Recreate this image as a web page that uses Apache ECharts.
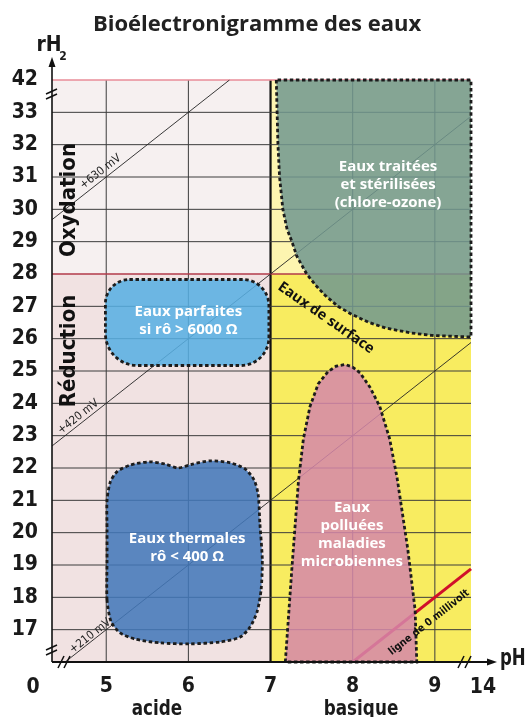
<!DOCTYPE html>
<html><head><meta charset="utf-8">
<script src="https://cdn.jsdelivr.net/npm/echarts@6/dist/echarts.min.js"></script>
<style>html,body{margin:0;padding:0;background:#fff}#c{width:526px;height:717px}</style>
</head><body><div id="c"></div>
<script>
// ---------- data ----------
const phExtent = [4.34, 9.44];
const rh2Extent = [16, 34];
const phTicks = [5, 6, 7, 8, 9];
const rh2Ticks = [17, 18, 19, 20, 21, 22, 23, 24, 25, 26, 27, 28, 29, 30, 31, 32, 33];
const rh2TopTick = [34, '42'];
const phEdgeLabels = ['0', '14'];
const phNeutral = 7;
const rh2Redox = 28;
// zones: [phFrom, phTo, rh2From, rh2To]
const zones = [
  [4.34, 7, 28, 34],
  [4.34, 7, 16, 28],
  [7, 9.44, 28, 34],
  [7, 9.44, 16, 28]
];
const iso630 = [[4.34, 29.68], [6.5, 34]];
const iso420 = [[4.34, 22.68], [9.44, 32.88]];
const iso210 = [[4.5, 16], [9.44, 25.88]];
const iso0 = [[8.0, 16], [9.44, 18.88]];
const treatedRegion = [[7.07,34],[7.08,33],[7.09,32],[7.11,31],[7.15,30],[7.2,29.4],[7.26,29],[7.32,28.55],[7.44,28],[7.55,27.65],[7.66,27.35],[7.82,27.0],[7.99,26.75],[8.2,26.5],[8.4,26.33],[8.7,26.18],[8.96,26.1],[9.44,26.05],[9.44,34]];
const pollutedRegion = [[7.18,16],[7.26,18.9],[7.34,21.6],[7.4,22.9],[7.48,23.9],[7.58,24.6],[7.7,24.98],[7.8,25.15],[7.91,25.2],[8.0,25.12],[8.09,24.94],[8.21,24.5],[8.33,23.9],[8.45,22.9],[8.54,21.7],[8.67,19.5],[8.76,17.6],[8.78,16]];
const thermalRegion = [[5.01,17.92],[5.01,19.15],[5.01,20.08],[5.01,21.01],[5.05,21.57],[5.13,21.88],[5.29,22.09],[5.53,22.19],[5.72,22.12],[5.875,22.0],[6.05,22.12],[6.26,22.22],[6.51,22.16],[6.69,21.97],[6.8,21.63],[6.85,21.17],[6.87,20.3],[6.9,19.15],[6.885,18.23],[6.836,17.55],[6.75,17.08],[6.63,16.77],[6.39,16.62],[6.02,16.56],[5.66,16.59],[5.35,16.71],[5.17,16.9],[5.06,17.24]];
const perfectRegion = [4.99, 6.98, 25.17, 27.83];
// labels: [pH, rH2, text]
const regionLabels = [
  [8.43, 30.75, 'Eaux traitées\net stérilisées\n(chlore-ozone)'],
  [6.0, 26.55, 'Eaux parfaites\nsi rô > 6000 Ω'],
  [5.985, 19.53, 'Eaux thermales\nrô < 400 Ω'],
  [7.99, 19.95, 'Eaux\npolluées\nmaladies\nmicrobiennes']
];
const zoneLabels = [
  [4.545, 30.29, 'Oxydation'],
  [4.545, 25.62, 'Réduction']
];
const surfaceLabel = [7.675, 26.64, 'Eaux de surface'];
const zeroLabel = [8.93, 17.22, 'ligne de 0 millivolt'];
const isoLabels = [
  [4.93, 31.16, '+630 mV'],
  [4.66, 23.58, '+420 mV'],
  [4.805, 16.8, '+210 mV']
];
const sideLabels = ['acide', 'basique'];

// ---------- styles ----------
const NARROW = "'Liberation Sans Narrow','DejaVu Sans Condensed',sans-serif";
const SANS = "'Open Sans','Noto Sans',sans-serif";
const zoneColors = ['#f6f0f0', '#f1e2e2', '#fdf5b0', '#f8ec60'];
const G = {left: 52, top: 80, right: 471, bottom: 662};
const dashStroke = {stroke: '#1c1c1c', lineWidth: 2.8, lineDash: [3.5, 2.6]};

function polySeries(points, fill, smooth) {
  return {
    type: 'custom', z: 5, data: points,
    renderItem: (p, api) => {
      if (p.dataIndex !== 0) return;
      return {type: 'polygon', shape: {points: points.map(pt => api.coord(pt)), smooth: smooth || 0},
        style: Object.assign({fill: fill}, dashStroke)};
    }
  };
}
function axisText(x, y, text, size, align, sx) {
  return {type: 'text', z: 52, x: x, y: y, scaleX: sx || 1,
    style: {text: text, fontFamily: NARROW, fontWeight: 'bold', fontSize: size, fill: '#1a1a1a',
      align: align || 'center', verticalAlign: 'middle'}};
}

const option = {
  animation: false,
  title: {text: 'Bioélectronigramme des eaux', left: 88, top: 9,
    textStyle: {fontFamily: SANS, fontSize: 22, fontWeight: 'bold', color: '#222'}},
  grid: {left: G.left, top: G.top, right: 526 - G.right, bottom: 717 - G.bottom},
  xAxis: {type: 'value', min: phExtent[0], max: phExtent[1],
    axisLine: {show: false}, axisTick: {show: false}, splitLine: {show: false},
    axisLabel: {customValues: phTicks, margin: 14, fontFamily: NARROW, fontWeight: 'bold', fontSize: 21, color: '#1a1a1a'}},
  yAxis: {type: 'value', min: rh2Extent[0], max: rh2Extent[1],
    axisLine: {show: false}, axisTick: {show: false}, splitLine: {show: false},
    axisLabel: {customValues: rh2Ticks.concat([rh2TopTick[0]]), margin: 14, padding: [0, 0, 18, 0],
      formatter: v => v === rh2TopTick[0] ? rh2TopTick[1] : String(v),
      fontFamily: NARROW, fontWeight: 'bold', fontSize: 21, color: '#1a1a1a'}},
  series: [
    { // background zones
      type: 'custom', z: 1, data: zones,
      renderItem: (p, api) => {
        const a = api.coord([api.value(0), api.value(3)]);
        const b = api.coord([api.value(1), api.value(2)]);
        return {type: 'rect', shape: {x: a[0], y: a[1], width: b[0] - a[0], height: b[1] - a[1]},
          style: {fill: zoneColors[p.dataIndex]}};
      }
    },
    { // vertical grid lines
      type: 'custom', z: 2, data: phTicks.map(v => [v, rh2Extent[0]]),
      renderItem: (p, api) => {
        const x = api.coord([api.value(0), rh2Extent[0]])[0];
        const y0 = api.coord([phExtent[0], rh2Extent[0]])[1];
        const y1 = api.coord([phExtent[0], rh2Extent[1]])[1];
        const neutral = api.value(0) === phNeutral;
        return {type: 'line', shape: {x1: x, y1: y0, x2: x, y2: y1},
          style: {stroke: neutral ? '#111' : '#3c3c3c', lineWidth: neutral ? 2.2 : 1}};
      }
    },
    { // horizontal grid lines
      type: 'custom', z: 2, data: rh2Ticks.concat([rh2Extent[1]]).map(v => [phExtent[0], v]),
      renderItem: (p, api) => {
        const v = api.value(1);
        const y = api.coord([phExtent[0], v])[1];
        const x0 = api.coord([phExtent[0], v])[0];
        const x1 = api.coord([phExtent[1], v])[0];
        let stroke = '#3c3c3c', w = 1;
        if (v === rh2Redox) { stroke = '#b23a4a'; w = 1.3; }
        if (v === rh2Extent[1]) { stroke = '#e98c98'; w = 1.6; }
        return {type: 'line', shape: {x1: x0, y1: y, x2: x1, y2: y}, style: {stroke: stroke, lineWidth: w}};
      }
    },
    {type: 'line', z: 3, data: iso630, showSymbol: false, silent: true, lineStyle: {color: '#222', width: 0.9}},
    {type: 'line', z: 3, data: iso420, showSymbol: false, silent: true, lineStyle: {color: '#222', width: 0.9}},
    {type: 'line', z: 3, data: iso210, showSymbol: false, silent: true, lineStyle: {color: '#222', width: 0.9}},
    {type: 'line', z: 3, data: iso0, showSymbol: false, silent: true, lineStyle: {color: '#d0102a', width: 3}},
    polySeries(treatedRegion, 'rgba(113,151,143,0.86)'),
    polySeries(pollutedRegion, 'rgba(213,135,170,0.86)'),
    polySeries(thermalRegion, 'rgba(67,119,185,0.87)', 0.25),
    { // perfect water rounded region
      type: 'custom', z: 5, data: [perfectRegion],
      renderItem: (p, api) => {
        const a = api.coord([api.value(0), api.value(3)]);
        const b = api.coord([api.value(1), api.value(2)]);
        return {type: 'rect', shape: {x: a[0], y: a[1], width: b[0] - a[0], height: b[1] - a[1], r: [24, 26, 28, 32]},
          style: Object.assign({fill: 'rgba(87,175,226,0.87)'}, dashStroke)};
      }
    },
    { // region labels
      type: 'custom', z: 8, data: regionLabels,
      renderItem: (p, api) => {
        const d = regionLabels[p.dataIndex];
        const c = api.coord([d[0], d[1]]);
        return {type: 'text', x: c[0], y: c[1],
          style: {text: d[2], fill: '#fff', fontFamily: SANS, fontWeight: 'bold', fontSize: 15, lineHeight: 18,
            align: 'center', verticalAlign: 'middle'}};
      }
    },
    { // Oxydation / Réduction
      type: 'custom', z: 8, data: zoneLabels,
      renderItem: (p, api) => {
        const d = zoneLabels[p.dataIndex];
        const c = api.coord([d[0], d[1]]);
        return {type: 'text', x: c[0], y: c[1], rotation: Math.PI / 2,
          style: {text: d[2], fill: '#111', fontFamily: NARROW, fontWeight: 'bold', fontSize: 22,
            align: 'center', verticalAlign: 'middle'}};
      }
    },
    { // iso labels
      type: 'custom', z: 8, data: isoLabels,
      renderItem: (p, api) => {
        const d = isoLabels[p.dataIndex];
        const c = api.coord([d[0], d[1]]);
        return {type: 'text', x: c[0], y: c[1], rotation: 0.667,
          style: {text: d[2], fill: '#222', fontFamily: NARROW, fontSize: 11.5,
            align: 'center', verticalAlign: 'middle'}};
      }
    },
    { // surface & zero labels
      type: 'custom', z: 8, data: [surfaceLabel, zeroLabel],
      renderItem: (p, api) => {
        const d = p.dataIndex === 0 ? surfaceLabel : zeroLabel;
        const c = api.coord([d[0], d[1]]);
        const surf = p.dataIndex === 0;
        return {type: 'text', x: c[0], y: c[1], rotation: surf ? -0.61 : 0.667,
          style: {text: d[2], fill: '#111', fontFamily: surf ? SANS : NARROW, fontWeight: 'bold',
            fontSize: surf ? 14.5 : 10.5, align: 'center', verticalAlign: 'middle'}};
      }
    }
  ],
  graphic: [
    // axes
    {type: 'line', z: 50, shape: {x1: G.left, y1: G.bottom, x2: G.left, y2: 64}, style: {stroke: '#111', lineWidth: 1.6}},
    {type: 'polygon', z: 50, shape: {points: [[G.left, 57], [G.left - 3.5, 67], [G.left + 3.5, 67]]}, style: {fill: '#111'}},
    {type: 'line', z: 50, shape: {x1: G.left, y1: G.bottom, x2: 490, y2: G.bottom}, style: {stroke: '#111', lineWidth: 2}},
    {type: 'polygon', z: 50, shape: {points: [[497, G.bottom], [487, G.bottom - 3.5], [487, G.bottom + 3.5]]}, style: {fill: '#111'}},
    // breaks
    {type: 'line', z: 51, shape: {x1: 46, y1: 94, x2: 57, y2: 89}, style: {stroke: '#111', lineWidth: 1.5}},
    {type: 'line', z: 51, shape: {x1: 46, y1: 99, x2: 57, y2: 94}, style: {stroke: '#111', lineWidth: 1.5}},
    {type: 'line', z: 51, shape: {x1: 46, y1: 650, x2: 57, y2: 645}, style: {stroke: '#111', lineWidth: 1.5}},
    {type: 'line', z: 51, shape: {x1: 46, y1: 655, x2: 57, y2: 650}, style: {stroke: '#111', lineWidth: 1.5}},
    {type: 'line', z: 51, shape: {x1: 58, y1: 668, x2: 64, y2: 656}, style: {stroke: '#111', lineWidth: 1.5}},
    {type: 'line', z: 51, shape: {x1: 64, y1: 668, x2: 70, y2: 656}, style: {stroke: '#111', lineWidth: 1.5}},
    {type: 'line', z: 51, shape: {x1: 458, y1: 668, x2: 464, y2: 656}, style: {stroke: '#111', lineWidth: 1.5}},
    {type: 'line', z: 51, shape: {x1: 465, y1: 668, x2: 471, y2: 656}, style: {stroke: '#111', lineWidth: 1.5}},
    // edge & axis labels
    axisText(33, 688, phEdgeLabels[0], 21),
    axisText(483, 688, phEdgeLabels[1], 21),
    axisText(157, 709, sideLabels[0], 22, 'center', 0.85),
    axisText(361, 709, sideLabels[1], 22, 'center', 0.85),
    axisText(500, 659, 'pH', 23, 'left', 0.8),
    axisText(49, 46, 'rH', 21),
    axisText(63, 57, '2', 12)
  ]
};
const chart = echarts.init(document.getElementById('c'));
chart.setOption(option);
</script>
</body></html>
